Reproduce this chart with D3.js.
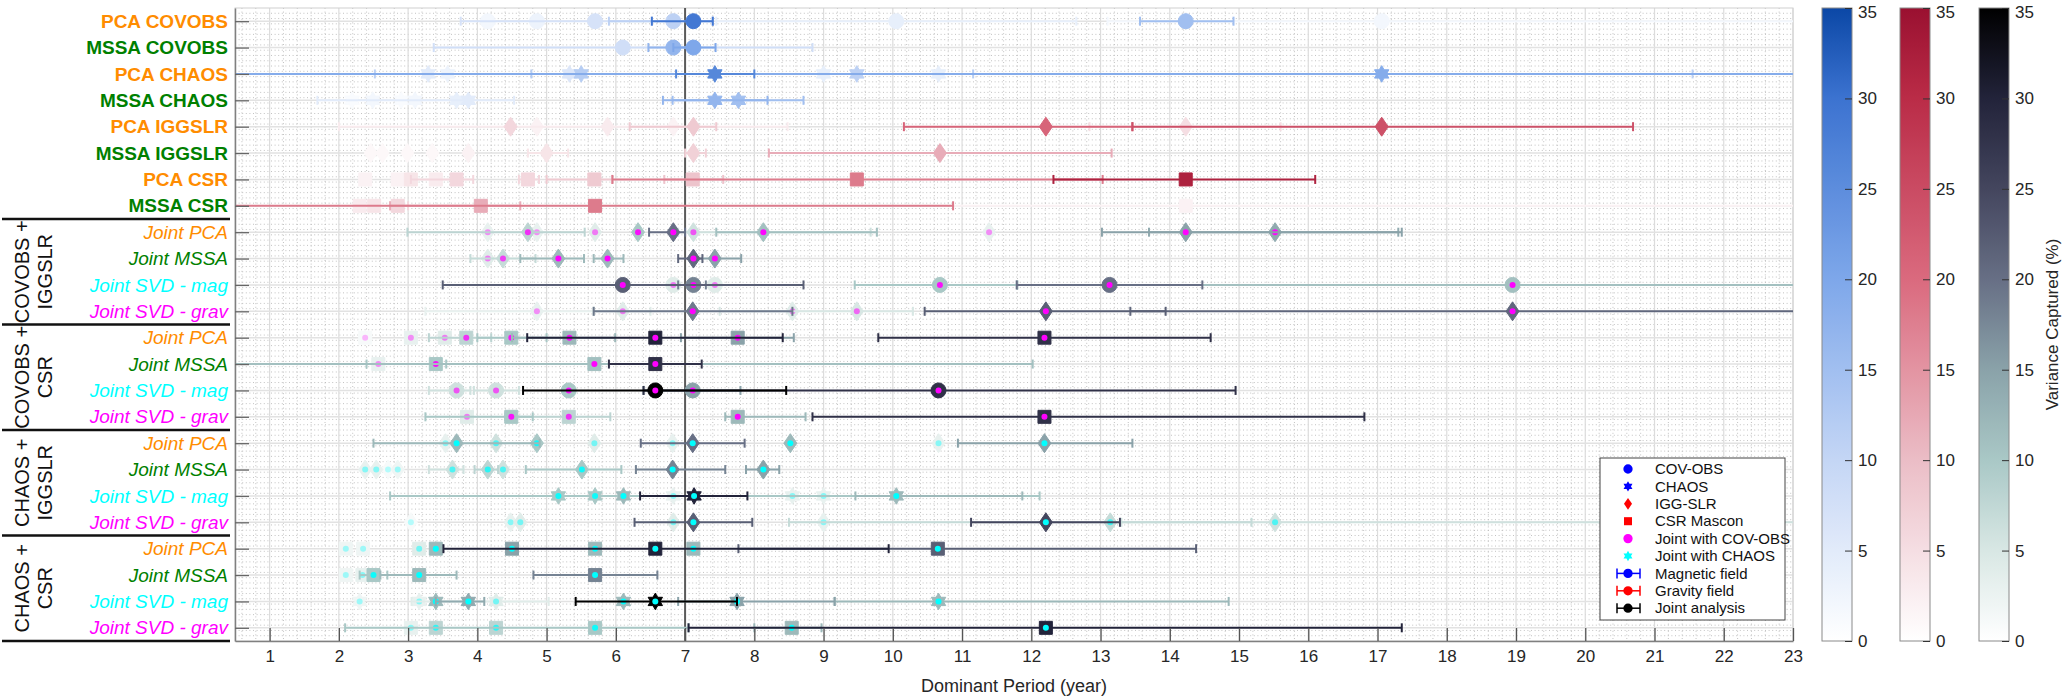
<!DOCTYPE html>
<html>
<head>
<meta charset="utf-8">
<script src="https://cdn.jsdelivr.net/npm/d3@7"></script>
<style>
  body { margin: 0; background: #fff; }
  text { font-family: "Liberation Sans", Arial, Helvetica, sans-serif; }
</style>
</head>
<body>
<svg id="chart" width="2066" height="696"></svg>
<script>
// ---- data: each point is [period (yr), variance captured (%), error lo, error hi]
const pcaCovobs = [[4.15,2],[4.86,3],[5.70,7,3.76,6.52],[6.83,11,5.9,7.4],[7.12,29,6.52,7.40],[10.05,4,7.45,12.65],[14.23,15,13.57,14.92],[17.06,2,13.1,24]];
const mssaCovobs = [[6.10,8,3.37,8.84],[6.83,17,6.47,7.12],[7.12,20,6.83,7.44]];
const pcaChaos = [[3.29,5],[3.57,3],[5.33,6],[5.50,12,4.78,11.16],[7.43,26,6.87,8.0],[9.0,4],[9.48,11,2.52,21.55],[10.66,4],[17.06,19,-1,25]];
const mssaChaos = [[2.19,1],[2.49,2],[2.90,1],[3.10,2],[3.70,4],[3.87,5,1.69,4.53],[7.43,17,6.68,8.19],[7.77,15,6.82,8.71]];
const pcaIggslr = [[4.48,6],[4.86,2],[5.88,3,2.0,8.48],[6.83,2],[7.12,8,6.2,7.45],[12.21,21,10.16,13.46],[14.23,5,12.84,15.6],[17.06,24,13.46,20.69]];
const mssaIggslr = [[2.46,1],[2.63,1],[2.99,1],[3.35,1],[3.87,2],[5.0,4,4.73,5.31],[7.12,7,7.0,7.3],[10.68,12,8.21,13.16]];
const pcaCsr = [[2.38,2],[2.85,2],[3.04,4],[3.40,3],[3.70,6,3.04,3.94],[4.73,6,4.60,4.89],[5.69,8,5.0,5.95],[7.11,9,6.70,7.55],[9.48,18,5.95,13.03],[14.23,32,12.32,16.1]];
const mssaCsr = [[2.30,3],[2.51,4],[2.85,6,2.74,3.0],[4.05,12,2.74,4.62],[5.70,18,-1,10.87],[14.23,2,10.87,24]];

const covIggPca = [[4.15,3],[4.73,8,2.99,5.55],[4.86,3],[5.70,4],[6.32,10],[6.83,20,6.48,7.0],[7.12,6,6.9,9.68],[8.13,11,7.45,9.77],[11.39,3],[14.23,15,13.02,17.35],[15.52,14,13.70,17.3]];
const covIggMssa = [[4.15,4],[4.37,7,3.9,4.84],[5.17,12,4.62,5.54],[5.88,12,5.68,6.11],[7.12,21,6.90,7.25],[7.43,15,7.12,7.81]];
const covIggSvdMag = [[6.10,22,3.50,8.71],[6.83,4],[7.12,18,6.9,7.3],[7.43,4],[10.68,10,9.45,11.79],[13.13,20,11.79,14.47],[18.95,11,11.8,25]];
const covIggSvdGrav = [[4.86,3,3.25,5.68],[6.10,4,5.68,6.5],[7.11,19,5.68,8.55],[8.55,4],[9.48,5,7.5,10.29],[12.21,22,10.46,13.94],[18.95,21,13.43,25]];
const covCsrPca = [[2.38,1],[3.04,3],[3.53,4],[3.84,8,3.3,4.2],[4.49,10,4.0,5.0],[5.33,12,4.5,5.99],[6.57,30,4.72,8.41],[7.76,15,6.94,8.57],[12.19,28,9.79,14.59]];
const covCsrMssa = [[2.57,3],[3.40,10,2.4,3.55],[5.69,11,-1,12.02],[6.57,28,5.90,7.24]];
const covCsrSvdMag = [[3.70,6,3.3,3.9],[4.27,6,3.95,4.6],[5.32,10],[6.57,35,4.66,8.46],[7.11,15,6.4,7.8],[10.66,28,6.4,14.95]];
const covCsrSvdGrav = [[3.85,4],[4.49,10,3.25,4.8],[5.32,8,4.4,5.92],[7.76,12,7.58,8.74],[12.19,28,8.84,16.81]];
const chaosIggPca = [[3.54,3],[3.70,12,2.5,4.9],[4.27,6],[4.86,10],[5.69,4],[6.82,3],[7.11,20,6.36,7.86],[8.52,12],[10.66,3],[12.19,15,10.94,13.46]];
const chaosIggMssa = [[2.38,3],[2.54,3],[2.71,1],[2.85,2],[3.64,6,3.3,3.8],[4.15,8,3.96,4.3],[4.37,6],[5.51,10,4.7,6.08],[6.82,18,6.29,7.58],[8.13,15,7.88,8.36]];
const chaosIggSvdMag = [[5.17,10,2.74,12.12],[5.70,10],[6.11,12],[6.83,3],[7.13,30,6.35,7.90],[8.55,3],[9.0,3],[10.05,12,9.46,11.87]];
const chaosIggSvdGrav = [[3.04,1],[4.48,3],[4.62,4],[6.83,4],[7.12,22,6.27,7.97],[9.0,3],[12.21,25,11.13,13.28],[13.14,7,8.5,15.18],[15.52,6,13.3,25]];
const chaosCsrPca = [[2.10,2],[2.35,2],[3.16,4],[3.40,12],[4.50,15],[5.70,12],[6.57,30,3.51,9.94],[7.12,12],[10.65,22,7.77,14.38]];
const chaosCsrMssa = [[2.10,2],[2.34,3],[2.50,10,2.3,2.7],[3.16,12,2.6,3.70],[5.70,18,4.81,6.60]];
const chaosCsrSvdMag = [[2.30,2],[3.16,3],[3.40,12],[3.87,14,3.4,4.1],[4.27,4,3.05,5.03],[6.11,12],[6.57,35,5.42,7.75],[7.75,15,6.9,9.16],[10.66,12,9.16,14.85]];
const chaosCsrSvdGrav = [[3.04,3],[3.40,8],[4.27,8],[5.70,10,2.09,7.05],[8.54,12,8.0,8.97],[12.21,30,7.05,17.35]];

const rowLabels = ["PCA COVOBS","MSSA COVOBS","PCA CHAOS","MSSA CHAOS","PCA IGGSLR","MSSA IGGSLR","PCA CSR","MSSA CSR",
  "Joint PCA","Joint MSSA","Joint SVD - mag","Joint SVD - grav",
  "Joint PCA","Joint MSSA","Joint SVD - mag","Joint SVD - grav",
  "Joint PCA","Joint MSSA","Joint SVD - mag","Joint SVD - grav",
  "Joint PCA","Joint MSSA","Joint SVD - mag","Joint SVD - grav"];
const rowData = [pcaCovobs, mssaCovobs, pcaChaos, mssaChaos, pcaIggslr, mssaIggslr, pcaCsr, mssaCsr,
  covIggPca, covIggMssa, covIggSvdMag, covIggSvdGrav,
  covCsrPca, covCsrMssa, covCsrSvdMag, covCsrSvdGrav,
  chaosIggPca, chaosIggMssa, chaosIggSvdMag, chaosIggSvdGrav,
  chaosCsrPca, chaosCsrMssa, chaosCsrSvdMag, chaosCsrSvdGrav];
const rowMarkers = ["circle","circle","hexagram","hexagram","diamond","diamond","square","square",
  "diamond","diamond","circle","diamond","square","square","circle","square",
  "diamond","diamond","hexagram","diamond","square","square","hexagram","square"];
const groupLabels = [["COVOBS +","IGGSLR"],["COVOBS +","CSR"],["CHAOS +","IGGSLR"],["CHAOS +","CSR"]];
const xTicks = d3.range(1, 24);
const cbTicks = [0, 5, 10, 15, 20, 25, 30, 35];
const legendLabels = ["COV-OBS","CHAOS","IGG-SLR","CSR Mascon","Joint with COV-OBS","Joint with CHAOS","Magnetic field","Gravity field","Joint analysis"];

// ---- colour maps (variance 0..35)
const blueMap = d3.scaleLinear().domain([0,10,20,30,35]).range(["#ffffff","#c4d6f5","#7ea7ea","#3c73d0","#0b47a6"]).clamp(true);
const redMap = d3.scaleLinear().domain([0,10,20,30,35]).range(["#ffffff","#ebbdc6","#da6a7e","#ba2c47","#9a1030"]).clamp(true);
const grayMap = d3.scaleLinear().domain([0,5,10,15,20,25,30,35]).range(["#ffffff","#d8e7e4","#a9c8c6","#8aa2a9","#676f85","#44465e","#22233a","#000000"]).clamp(true);

function rowMap(i) { return i < 4 ? blueMap : i < 8 ? redMap : grayMap; }
function rowDot(i) { return i < 8 ? null : (i < 16 ? "#ff00ff" : "#00ffff"); }
function rowLabelStyle(i) {
  const lab = rowLabels[i];
  if (lab.includes("SVD - mag")) return "#00ffff";
  if (lab.includes("SVD - grav")) return "#ff00ff";
  if (lab.includes("PCA")) return "#ff8c00";
  return "#008000";
}

const svg = d3.select("#chart");
const mL = 235, mR = 1793, mT = 8, mB = 641;
const x = d3.scaleLinear().domain([0.5, 23]).range([mL, mR]);
const y = d3.scaleLinear().domain([0.5, 24.5]).range([mT, mB]);

// marker shapes
function hexagram(R) {
  const pts = [];
  for (let i = 0; i < 12; i++) {
    const a = -Math.PI / 2 + i * Math.PI / 6;
    const r = i % 2 ? R * 0.58 : R;
    pts.push([r * Math.cos(a), r * Math.sin(a)]);
  }
  return "M" + pts.map(p => p[0].toFixed(2) + "," + p[1].toFixed(2)).join("L") + "Z";
}
function shapePath(type, s) {
  if (type === "circle") return d3.symbol(d3.symbolCircle, Math.PI * (7.5 * s) ** 2)();
  if (type === "square") { const h = 6.5 * s; return `M${-h},${-h}H${h}V${h}H${-h}Z`; }
  if (type === "diamond") { const w = 6.5 * s, h = 9.5 * s; return `M0,${-h}L${w},0L0,${h}L${-w},0Z`; }
  return hexagram(8.3 * s);
}

// ---- grid
svg.append("clipPath").attr("id", "plotclip").append("rect")
  .attr("x", mL).attr("y", mT).attr("width", mR - mL).attr("height", mB - mT);
const grid = svg.append("g");
const minorX = d3.range(0.6, 23, 0.2).filter(v => Math.abs(v - Math.round(v)) > 0.05);
grid.selectAll(".mx").data(minorX).join("line")
  .attr("x1", d => x(d)).attr("x2", d => x(d)).attr("y1", mT).attr("y2", mB)
  .attr("stroke", "#b4b4b4").attr("stroke-width", 0.8).attr("stroke-dasharray", "1,2.6");
const minorY = d3.range(0.7, 24.5, 0.2).filter(v => Math.abs(v - Math.round(v)) > 0.05);
grid.selectAll(".my").data(minorY).join("line")
  .attr("x1", mL).attr("x2", mR).attr("y1", d => y(d)).attr("y2", d => y(d))
  .attr("stroke", "#b4b4b4").attr("stroke-width", 0.8).attr("stroke-dasharray", "1,2.6");
grid.selectAll(".gx").data(xTicks).join("line")
  .attr("x1", d => x(d)).attr("x2", d => x(d)).attr("y1", mT).attr("y2", mB)
  .attr("stroke", "#dcdcdc").attr("stroke-width", 1.2);
grid.selectAll(".gy").data(d3.range(1, 25)).join("line")
  .attr("x1", mL).attr("x2", mR).attr("y1", d => y(d)).attr("y2", d => y(d))
  .attr("stroke", "#e2e2e2").attr("stroke-width", 1.6);
grid.append("rect").attr("x", mL).attr("y", mT).attr("width", mR - mL).attr("height", mB - mT)
  .attr("fill", "none").attr("stroke", "#d0d0d0");

// reference line at 7 years
svg.append("line").attr("x1", x(7)).attr("x2", x(7)).attr("y1", mT).attr("y2", mB)
  .attr("stroke", "#5a5a5a").attr("stroke-width", 2);

// ---- points, drawn from faint to strong
const pts = [];
rowData.forEach((arr, i) => arr.forEach(d => pts.push({ row: i + 1, p: d[0], v: d[1], lo: d[2], hi: d[3],
  type: rowMarkers[i], cmap: rowMap(i), dot: rowDot(i) })));
pts.sort((a, b) => a.v - b.v);

const plot = svg.append("g").attr("clip-path", "url(#plotclip)");
pts.forEach(d => {
  const c = d.cmap(d.v), yy = y(d.row);
  const g = plot.append("g");
  if (d.lo != null) {
    g.append("line").attr("x1", x(d.lo)).attr("x2", x(d.hi)).attr("y1", yy).attr("y2", yy)
      .attr("stroke", c).attr("stroke-width", 2);
    [d.lo, d.hi].forEach(e => g.append("line").attr("x1", x(e)).attr("x2", x(e))
      .attr("y1", yy - 4.5).attr("y2", yy + 4.5).attr("stroke", c).attr("stroke-width", 2));
  }
  g.append("path").attr("d", shapePath(d.type, 1)).attr("transform", `translate(${x(d.p)},${yy})`)
    .attr("fill", c).attr("stroke", c).attr("stroke-width", 1);
  if (d.dot) {
    g.append("circle").attr("cx", x(d.p)).attr("cy", yy).attr("r", 3)
      .attr("fill", d.dot).attr("opacity", Math.min(1, 0.2 + d.v / 14));
  }
});

// ---- axes
const xAxis = svg.append("g").attr("transform", `translate(0,${mB})`)
  .call(d3.axisBottom(x).tickValues(xTicks).tickSize(-13).tickPadding(9).tickSizeOuter(0));
xAxis.select(".domain").attr("stroke", "#808080").attr("stroke-width", 1.5);
xAxis.selectAll(".tick line").attr("stroke", "#555").attr("stroke-width", 1.3);
xAxis.selectAll("text").attr("font-size", 17).attr("fill", "#262626");

const yAxis = svg.append("g").attr("transform", `translate(${mL},0)`)
  .call(d3.axisLeft(y).tickValues(d3.range(1, 25)).tickSize(-14).tickPadding(7).tickSizeOuter(0)
    .tickFormat(d => rowLabels[d - 1]));
yAxis.select(".domain").attr("stroke", "#808080").attr("stroke-width", 1.5);
yAxis.selectAll(".tick line").attr("stroke", "#666").attr("stroke-width", 1.3);
yAxis.selectAll("text").attr("font-size", 19)
  .attr("fill", d => rowLabelStyle(d - 1))
  .attr("font-weight", d => d <= 8 ? "bold" : "normal")
  .attr("font-style", d => d <= 8 ? "normal" : "italic");

svg.append("text").attr("x", (mL + mR) / 2).attr("y", 692).attr("text-anchor", "middle")
  .attr("font-size", 18).attr("fill", "#262626").text("Dominant Period (year)");

// ---- group labels and separators
groupLabels.forEach((lines, g) => {
  const y0 = y(8.5 + 4 * g), y1 = y(12.5 + 4 * g), cy = (y0 + y1) / 2;
  lines.forEach((t, k) => {
    svg.append("text").attr("transform", `translate(${22 + k * 23},${cy}) rotate(-90)`)
      .attr("text-anchor", "middle").attr("dy", "0.35em").attr("font-size", 20).attr("fill", "#111").text(t);
  });
});
[8.5, 12.5, 16.5, 20.5, 24.5].forEach(v => {
  svg.append("line").attr("x1", 2).attr("x2", 230).attr("y1", y(v)).attr("y2", y(v))
    .attr("stroke", "#111").attr("stroke-width", 2.5);
});

// ---- legend
const lg = svg.append("g");
lg.append("rect").attr("x", 1600).attr("y", 458).attr("width", 185).attr("height", 162)
  .attr("fill", "#fff").attr("stroke", "#444").attr("stroke-width", 1);
const legendMarks = [
  { t: "circle", c: "#0000ff" }, { t: "hexagram", c: "#0000ff" }, { t: "diamond", c: "#ff0000" },
  { t: "square", c: "#ff0000" }, { t: "circle", c: "#ff00ff" }, { t: "hexagram", c: "#00ffff" },
  { t: "circle", c: "#0000ff", eb: true }, { t: "circle", c: "#ff0000", eb: true }, { t: "circle", c: "#000000", eb: true }
];
legendLabels.forEach((lab, i) => {
  const yy = 469 + i * 17.4, m = legendMarks[i];
  if (m.eb) {
    lg.append("line").attr("x1", 1617).attr("x2", 1640).attr("y1", yy).attr("y2", yy).attr("stroke", m.c).attr("stroke-width", 1.5);
    [1617, 1640].forEach(e => lg.append("line").attr("x1", e).attr("x2", e).attr("y1", yy - 5).attr("y2", yy + 5)
      .attr("stroke", m.c).attr("stroke-width", 1.5));
  }
  lg.append("path").attr("d", shapePath(m.t, 0.62)).attr("transform", `translate(1628,${yy})`).attr("fill", m.c);
  lg.append("text").attr("x", 1655).attr("y", yy).attr("dy", "0.35em").attr("font-size", 15).attr("fill", "#111").text(lab);
});

// ---- colour bars
const cbY = d3.scaleLinear().domain([0, 35]).range([mB, mT]);
const defs = svg.append("defs");
[[blueMap, 1822], [redMap, 1900], [grayMap, 1979]].forEach(([cm, bx], k) => {
  const grad = defs.append("linearGradient").attr("id", "cb" + k).attr("x1", 0).attr("x2", 0).attr("y1", 1).attr("y2", 0);
  d3.range(0, 36, 1).forEach(v => grad.append("stop").attr("offset", v / 35).attr("stop-color", cm(v)));
  svg.append("rect").attr("x", bx).attr("y", mT).attr("width", 30).attr("height", mB - mT)
    .attr("fill", `url(#cb${k})`).attr("stroke", "#8a8a8a").attr("stroke-width", 1);
  const ax = svg.append("g").attr("transform", `translate(${bx + 30},0)`)
    .call(d3.axisRight(cbY).tickValues(cbTicks).tickSize(-7).tickPadding(6).tickSizeOuter(0));
  ax.select(".domain").remove();
  ax.selectAll(".tick line").attr("stroke", "#333");
  ax.selectAll("text").attr("font-size", 17).attr("fill", "#262626")
    .attr("dy", d => d === 35 ? "0.55em" : "0.32em");
});
svg.append("text").attr("transform", `translate(2052,${(mT + mB) / 2}) rotate(-90)`)
  .attr("text-anchor", "middle").attr("dy", "0.35em").attr("font-size", 17).attr("fill", "#262626")
  .text("Variance Captured (%)");
</script>
</body>
</html>
